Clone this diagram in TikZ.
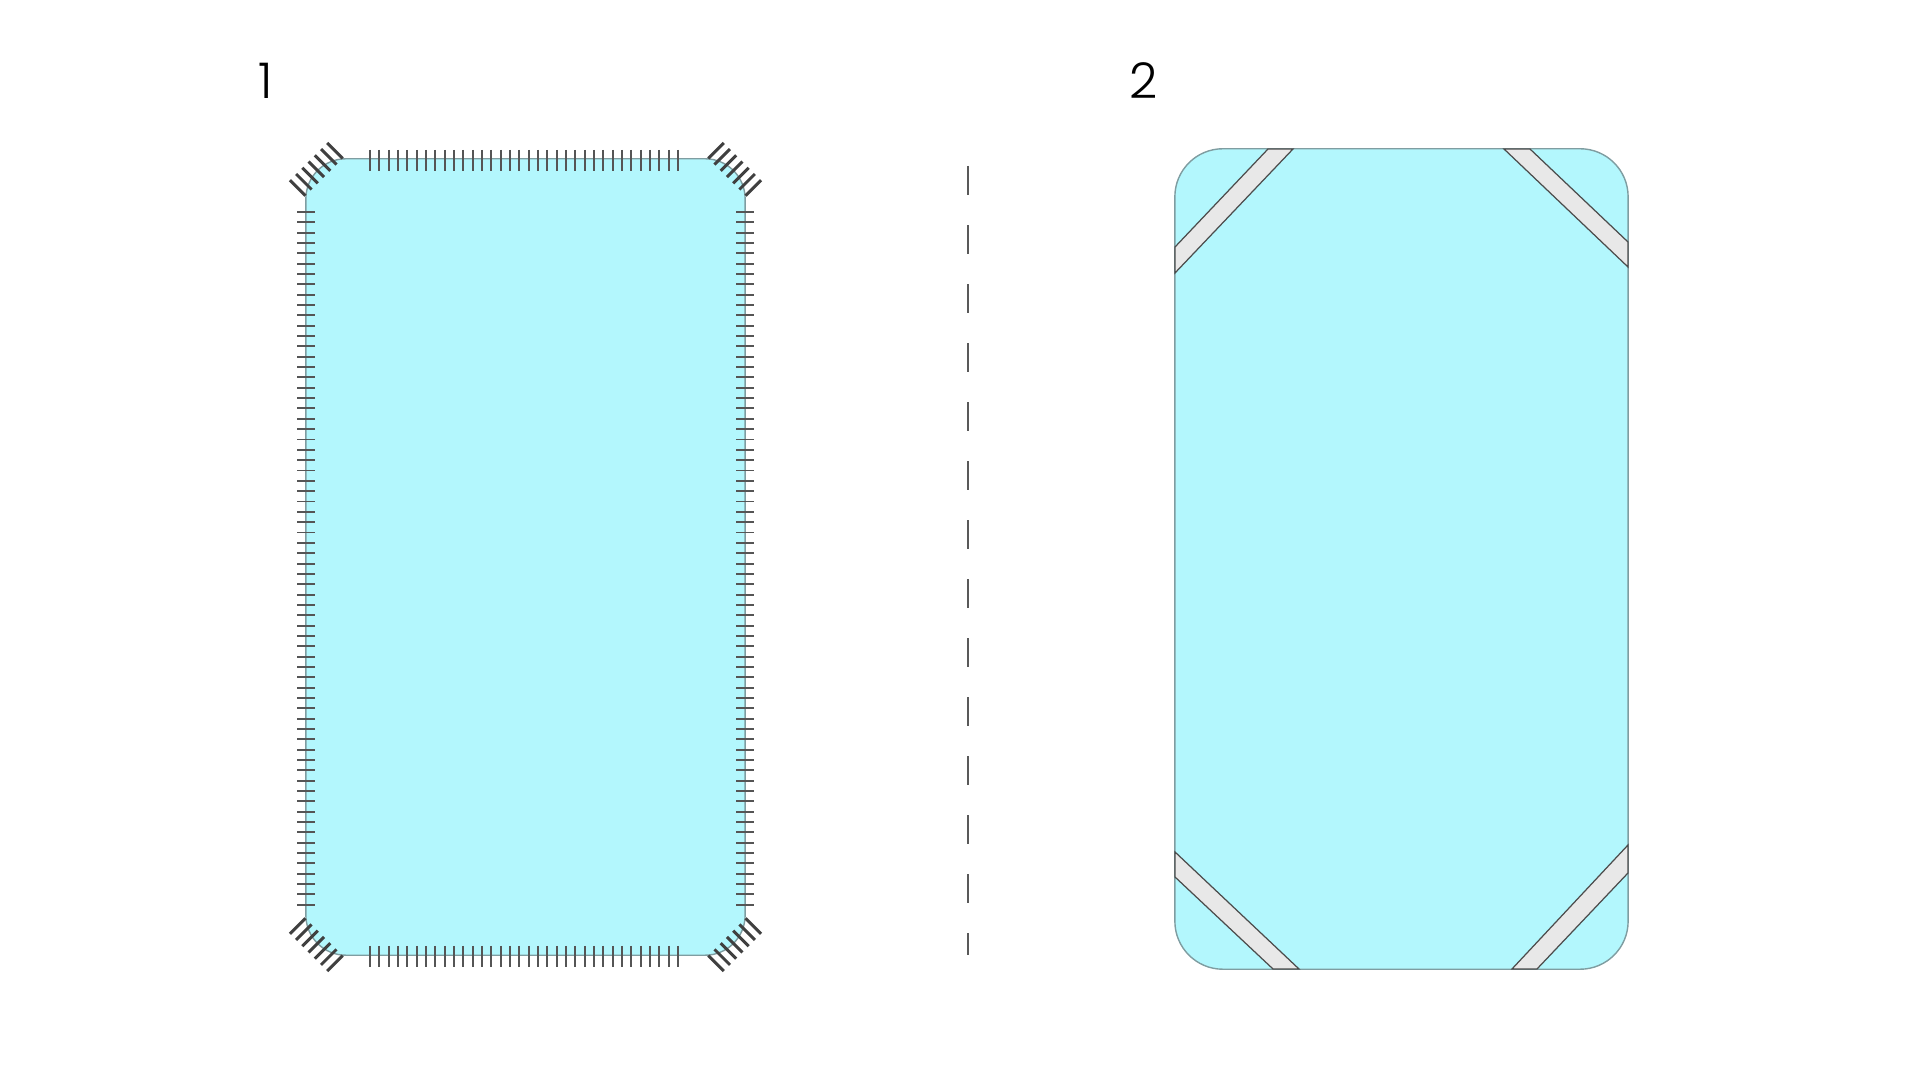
\documentclass[tikz,border=0pt]{standalone}
\usepackage{fontspec}
\setmainfont{Poppins}[UprightFont=* Light]
\usepackage{tikz}
\usetikzlibrary{calc,positioning}

\definecolor{sheetblue}{HTML}{B3F7FD}
\definecolor{sheetedge}{HTML}{7F9DA1}
\definecolor{tickgray}{HTML}{555555}
\definecolor{bandgray}{HTML}{E8E8E8}

\begin{document}
\begin{tikzpicture}[x=0.01cm,y=-0.01cm]
      \tikzset{sheet/.style={draw=sheetedge,fill=sheetblue,line width=0.4pt,
          inner sep=0pt,outer sep=0pt,rectangle},
        tick/.style={draw=tickgray,line width=0.55pt},
        cornertick/.style={draw=black!75,line width=0.85pt},
        band/.style={draw=black!70,fill=bandgray,line width=0.35pt},
        cutline/.style={draw=black!65,line width=0.7pt,dash pattern=on 0.29cm off 0.30cm},
        steplabel/.style={font=\fontsize{14}{16}\selectfont,inner sep=0pt}
      }
      \useasboundingbox (0,0) rectangle (1920,1080);

      \node [steplabel] (one) at (266,81) {1};
      \node [steplabel] (two) at (1144,81) {2};

      % sheet with the hem stitches
      \node [sheet,rounded corners=0.4cm,minimum width=4.39cm,minimum height=7.96cm] (flat) at (525.5,557) {};
      \foreach \i in {0,...,67}
        {
          \draw [tick] (297,212+\i*10.34) -- (315,212+\i*10.34);
          \draw [tick] (736,212+\i*10.34) -- (754,212+\i*10.34);
        }
      \foreach \i in {0,...,33}
        {
          \draw [tick] (370+\i*9.33,150) -- (370+\i*9.33,171);
          \draw [tick] (370+\i*9.33,946) -- (370+\i*9.33,967);
        }
      \coordinate (tl) at (346,199);
      \coordinate (tr) at (705,199);
      \coordinate (bl) at (346,915);
      \coordinate (br) at (705,915);
      \foreach \c/\m in {tl/135,tr/45,bl/225,br/315}
        \foreach \k in {-3,...,3}
          \draw [cornertick] ($(\c)+(-\m:31)+(-\m-90:8.8*\k)$) -- ($(\c)+(-\m:53)+(-\m-90:8.8*\k)$);

      % fold line
      \coordinate (cuttop) at (968,166);
      \coordinate (cutbot) at (968,955);
      \draw [cutline] (cuttop) -- (cutbot);

      % fitted sheet with corner bands
      \node [sheet,rounded corners=0.48cm,minimum width=4.53cm,minimum height=8.2cm] (fitted) at (1401.5,559) {};
      \draw [band] (1268,149) -- (1293,149) -- (1175,273) -- (1175,247) -- cycle;
      \draw [band] (1504,149) -- (1530,149) -- (1628,242) -- (1628,267) -- cycle;
      \draw [band] (1175,852) -- (1175,877) -- (1273,969) -- (1299,969) -- cycle;
      \draw [band] (1628,845) -- (1628,873) -- (1537,969) -- (1512,969) -- cycle;
\end{tikzpicture}
\end{document}
